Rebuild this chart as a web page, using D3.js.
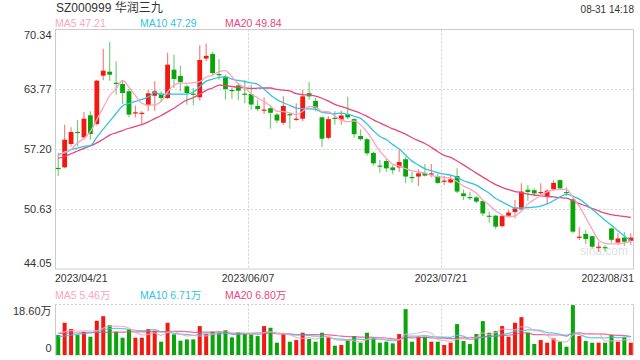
<!DOCTYPE html>
<html><head><meta charset="utf-8">
<script src="https://cdn.jsdelivr.net/npm/d3@7"></script>
<style>body{margin:0;background:#fff}svg{display:block}text{font-family:"Liberation Sans",Arial,"Noto Sans CJK SC",sans-serif}</style>
</head><body><svg id="c" width="640" height="360"></svg>
<script>
const title = "SZ000999 华润三九";
const stamp = "08-31 14:18";
const dates = ["2023/04/21","2023/04/24","2023/04/25","2023/04/26","2023/04/27","2023/04/28",
"2023/05/04","2023/05/05","2023/05/08","2023/05/09","2023/05/10","2023/05/11","2023/05/12","2023/05/15","2023/05/16","2023/05/17","2023/05/18","2023/05/19","2023/05/22","2023/05/23","2023/05/24","2023/05/25","2023/05/26","2023/05/29","2023/05/30","2023/05/31",
"2023/06/01","2023/06/02","2023/06/05","2023/06/06","2023/06/07","2023/06/08","2023/06/09","2023/06/12","2023/06/13","2023/06/14","2023/06/15","2023/06/16","2023/06/19","2023/06/20","2023/06/21","2023/06/26","2023/06/27","2023/06/28","2023/06/29","2023/06/30",
"2023/07/03","2023/07/04","2023/07/05","2023/07/06","2023/07/07","2023/07/10","2023/07/11","2023/07/12","2023/07/13","2023/07/14","2023/07/17","2023/07/18","2023/07/19","2023/07/20","2023/07/21","2023/07/24","2023/07/25","2023/07/26","2023/07/27","2023/07/28","2023/07/31",
"2023/08/01","2023/08/02","2023/08/03","2023/08/04","2023/08/07","2023/08/08","2023/08/09","2023/08/10","2023/08/11","2023/08/14","2023/08/15","2023/08/16","2023/08/17","2023/08/18","2023/08/21","2023/08/22","2023/08/23","2023/08/24","2023/08/25","2023/08/28","2023/08/29","2023/08/30","2023/08/31"];
const openP = [55.15,55.21,57.77,59.10,58.50,60.92,59.97,65.27,65.71,64.50,
64.36,63.56,61.15,61.10,62.02,63.07,63.29,62.82,65.93,65.24,
64.10,63.30,62.90,67.15,67.65,65.45,65.10,63.70,64.20,63.30,
63.25,61.95,61.50,61.70,61.00,60.10,61.05,60.50,60.55,63.35,
62.50,60.70,58.45,60.65,60.45,61.05,60.50,58.65,58.30,56.80,
55.40,55.90,55.20,55.20,56.10,54.15,54.20,54.60,54.50,54.25,
53.70,53.55,54.25,52.35,51.95,51.90,51.50,49.90,49.90,48.75,
49.90,50.30,50.60,52.75,52.70,52.45,52.05,52.80,53.80,52.50,
51.70,47.55,47.90,47.65,46.45,46.45,48.50,46.95,47.50,47.15];
const highP = [56.78,59.89,59.60,60.41,61.28,61.36,64.80,68.23,68.97,66.85,
64.72,63.80,61.98,61.36,63.70,64.65,63.56,67.79,67.57,66.37,
64.28,63.92,68.60,68.80,67.90,67.10,65.38,63.92,64.47,64.83,
64.28,62.64,62.90,62.02,61.17,63.00,61.17,62.24,63.73,64.58,
62.82,60.80,60.81,61.36,61.43,62.96,60.60,59.38,58.45,56.93,
56.02,56.12,55.40,57.12,56.38,54.73,55.00,55.58,55.58,54.50,
54.26,54.37,55.10,52.80,52.54,52.10,51.60,50.35,50.00,49.98,
50.53,51.62,53.46,53.27,52.91,53.46,52.80,53.82,53.90,53.02,
51.81,48.63,48.33,47.70,47.05,46.68,48.60,47.97,48.14,47.97];
const lowP = [54.26,55.15,57.50,57.52,58.24,58.24,59.80,64.76,64.72,63.18,
62.16,60.70,60.70,59.89,61.36,61.43,62.38,62.70,63.92,63.56,
62.09,62.02,62.52,66.85,65.20,64.83,62.64,62.74,62.57,62.27,
61.54,61.36,61.06,59.45,60.07,59.89,59.45,60.33,60.26,62.64,
61.36,57.44,58.30,59.89,59.89,60.50,58.46,58.13,56.49,55.39,
54.62,54.73,54.45,54.73,53.46,53.52,53.16,54.20,54.12,53.38,
53.27,53.45,52.36,51.62,51.62,51.30,49.87,49.13,48.44,48.60,
49.80,49.62,50.50,51.55,52.06,51.99,51.18,52.70,52.80,52.10,
47.97,47.23,46.79,46.32,45.95,45.95,46.94,46.68,46.57,46.70];
const closeP = [55.10,58.24,59.09,59.00,60.55,58.87,64.72,65.82,65.38,64.43,
63.37,61.00,61.25,61.20,63.34,63.56,62.82,66.48,64.91,64.58,
63.37,63.22,67.00,67.45,65.55,65.35,63.80,63.60,63.62,63.22,
62.10,61.60,61.55,61.20,60.35,61.95,60.95,60.55,63.00,63.00,
61.70,58.35,60.50,60.60,60.90,60.70,58.85,58.30,56.75,55.65,
55.30,55.10,54.90,55.80,54.20,54.05,54.55,54.30,54.55,53.50,
53.75,53.90,52.55,52.05,51.90,51.45,50.15,49.85,48.70,49.85,
50.25,50.70,52.55,52.50,52.35,52.50,52.65,53.50,52.90,52.45,
48.15,47.60,47.35,46.50,46.50,46.40,47.25,47.40,47.05,47.50];
// 成交量 (万手)
const volume = [7.34,11.87,9.55,7.34,8.57,6.73,12.6,14.3,11.0,8.57,
6.36,9.42,6.36,6.36,9.55,8.93,4.9,11.87,7.59,5.26,
5.75,5.75,10.65,7.71,8.57,8.57,9.18,6.5,8.45,7.71,
7.59,6.98,10.65,10.04,4.53,7.59,4.9,5.5,8.2,5.88,
4.9,8.2,6.5,3.43,3.67,5.5,6.98,4.53,8.2,6.5,
4.53,4.9,4.28,7.71,16.9,4.9,6.73,6.73,4.9,4.9,
3.67,4.53,11.38,5.14,4.04,7.71,12.48,8.2,8.81,10.65,
6.73,11.87,13.95,8.2,4.04,5.5,4.53,6.12,4.9,3.06,
18.36,6.98,5.14,4.53,4.53,4.53,7.34,4.9,6.5,4.53];
// MA values before a full window is available
const ma5Lead = [56.50,56.90,57.15,57.90];
const ma10Lead = [56.67,56.78,57.15,57.33,57.52,57.60,58.50,59.40,60.26];
const ma20Lead = [56.2,56.4,56.7,57.0,57.3,57.55,57.9,58.3,58.75,59.0,59.25,59.5,59.7,59.9,60.2,60.55,60.9,61.3,61.7];
const vma5Lead = [8.0,8.5,9.0,8.8];
const vma10Lead = [6.7,7.0,7.3,7.6,7.9,8.2,8.6,9.2,9.7];
const vma20Lead = [8.0,8.0,8.1,8.1,8.2,8.2,8.3,8.3,8.4,8.4,8.4,8.5,8.5,8.5,8.6,8.6,8.6,8.7,8.7];
const priceTicks = [44.05,50.63,57.20,63.77,70.34];
const volTicks = [0,18.60];
const volTickLabels = ["0","18.60万"];
const dateTicks = ["2023/04/21","2023/06/07","2023/07/21","2023/08/31"];
const maLabels = ["MA5 47.21","MA10 47.29","MA20 49.84"];
const vmaLabels = ["MA5 5.46万","MA10 6.71万","MA20 6.80万"];

const svg = d3.select("#c");
const L = 55, R = 634, PT = 29.5, PB = 269, VT = 304.5, VB = 355;
const RED = "#f01a10", GREEN = "#0aa50a";
const maColors = ["#f9a3c2","#33c2df","#e8467d"];
const N = dates.length;
const x = d3.scaleBand().domain(d3.range(N)).range([L, R]).padding(0);
const bw = x.bandwidth();
const cx = i => x(i) + bw/2;
const y = d3.scaleLinear().domain([44.05,70.34]).range([PB, PT]);
const yv = d3.scaleLinear().domain([0,18.60]).range([VB, VT]);

function movingAvg(vals, n, lead){
  return vals.map((v,i)=> i < n-1 ? lead[i] : d3.mean(vals.slice(i-n+1, i+1)));
}
const ma = [movingAvg(closeP,5,ma5Lead), movingAvg(closeP,10,ma10Lead), movingAvg(closeP,20,ma20Lead)];
const vma = [movingAvg(volume,5,vma5Lead), movingAvg(volume,10,vma10Lead), movingAvg(volume,20,vma20Lead)];

// header
svg.append("text").attr("x",56).attr("y",12).attr("font-size",12).attr("fill","#333").text(title);
svg.append("text").attr("x",634).attr("y",12.5).attr("font-size",10).attr("fill","#333").attr("text-anchor","end").text(stamp);
const legX = [55,140,225];
maLabels.forEach((t,k)=> svg.append("text").attr("x",legX[k]).attr("y",27).attr("font-size",10.5).attr("fill",maColors[k]).text(t));
vmaLabels.forEach((t,k)=> svg.append("text").attr("x",legX[k]).attr("y",299).attr("font-size",10.5).attr("fill",maColors[k]).text(t));

// grid price
const g = svg.append("g");
priceTicks.slice(1,-1).forEach(v=>{
  g.append("line").attr("x1",L).attr("x2",R).attr("y1",Math.round(y(v))+0.5).attr("y2",Math.round(y(v))+0.5)
   .attr("stroke","#d8d8d8").attr("stroke-dasharray","2,2");
});
const dIdx = dateTicks.map(d=>dates.indexOf(d));
dIdx.slice(1,-1).forEach(i=>{
  const xx = Math.round(x(i))+0.5;
  g.append("line").attr("x1",xx).attr("x2",xx).attr("y1",PT).attr("y2",PB).attr("stroke","#d0d0d0").attr("stroke-dasharray","2,2");
  g.append("line").attr("x1",xx).attr("x2",xx).attr("y1",VT).attr("y2",VB).attr("stroke","#d0d0d0").attr("stroke-dasharray","2,2");
});
// borders
g.append("rect").attr("x",L+0.5).attr("y",PT).attr("width",R-L-1).attr("height",PB-PT).attr("fill","none").attr("stroke","#ccc");
g.append("line").attr("x1",L).attr("x2",R).attr("y1",VT).attr("y2",VT).attr("stroke","#ccc").attr("stroke-dasharray","2,2");
g.append("line").attr("x1",L).attr("x2",R).attr("y1",VB).attr("y2",VB).attr("stroke","#ccc").attr("stroke-dasharray","2,2");
g.append("line").attr("x1",L+0.5).attr("x2",L+0.5).attr("y1",VT).attr("y2",VB).attr("stroke","#ccc");
g.append("line").attr("x1",R-0.5).attr("x2",R-0.5).attr("y1",VT).attr("y2",VB).attr("stroke","#ccc");

// y labels
priceTicks.forEach((v,k)=>{
  let yy = y(v)+4;
  if(k===priceTicks.length-1) yy = y(v)+9;
  if(k===0) yy = y(v)-2.5;
  svg.append("text").attr("x",51.5).attr("y",yy).attr("font-size",11).attr("fill","#333").attr("text-anchor","end").text(v.toFixed(2));
});
volTicks.forEach((v,k)=>{
  const yy = k===0 ? yv(v)-3.5 : yv(v)+10.5;
  svg.append("text").attr("x",51.5).attr("y",yy).attr("font-size",11).attr("fill","#333").attr("text-anchor","end").text(volTickLabels[k]);
});
// date labels
dIdx.forEach((i,k)=>{
  const t = svg.append("text").attr("y",281.5).attr("font-size",10.5).attr("fill","#333").text(dateTicks[k]);
  if(k===0) t.attr("x",L).attr("text-anchor","start");
  else if(k===dIdx.length-1) t.attr("x",R).attr("text-anchor","end");
  else t.attr("x",x(i)).attr("text-anchor","middle");
});

// watermark
svg.append("text").attr("x",580).attr("y",255).attr("font-size",12).attr("fill","#000").attr("opacity",0.13).text("sina.com");

// candles
const cw = 4.8;
const cg = svg.append("g");
d3.range(N).forEach(i=>{
  const up = closeP[i] >= openP[i];
  const col = up ? RED : GREEN;
  const xc = cx(i);
  cg.append("line").attr("x1",xc).attr("x2",xc).attr("y1",y(highP[i])).attr("y2",y(lowP[i]))
    .attr("stroke",col).attr("stroke-width",1.2).attr("stroke-opacity",0.55);
  const top = y(Math.max(openP[i],closeP[i])), bot = y(Math.min(openP[i],closeP[i]));
  cg.append("rect").attr("x",xc-cw/2).attr("y",top).attr("width",cw).attr("height",Math.max(1.2,bot-top)).attr("fill",col);
});
// MA lines
const line = d3.line().x((d,i)=>cx(i)).y(d=>y(d)).curve(d3.curveMonotoneX);
[2,1,0].forEach(k=>{
  svg.append("path").attr("d",line(ma[k])).attr("fill","none").attr("stroke",maColors[k]).attr("stroke-width",1.3);
});
// volume bars
const vw = 4;
d3.range(N).forEach(i=>{
  const up = closeP[i] >= openP[i];
  svg.append("rect").attr("x",cx(i)-vw/2).attr("y",yv(volume[i])).attr("width",vw).attr("height",VB-yv(volume[i]))
    .attr("fill", up ? RED : GREEN);
});
const vline = d3.line().x((d,i)=>cx(i)).y(d=>yv(d)).curve(d3.curveMonotoneX);
[2,1,0].forEach(k=>{
  svg.append("path").attr("d",vline(vma[k])).attr("fill","none").attr("stroke",maColors[k]).attr("stroke-width",1.2).attr("stroke-opacity",0.8);
});
</script></body></html>
